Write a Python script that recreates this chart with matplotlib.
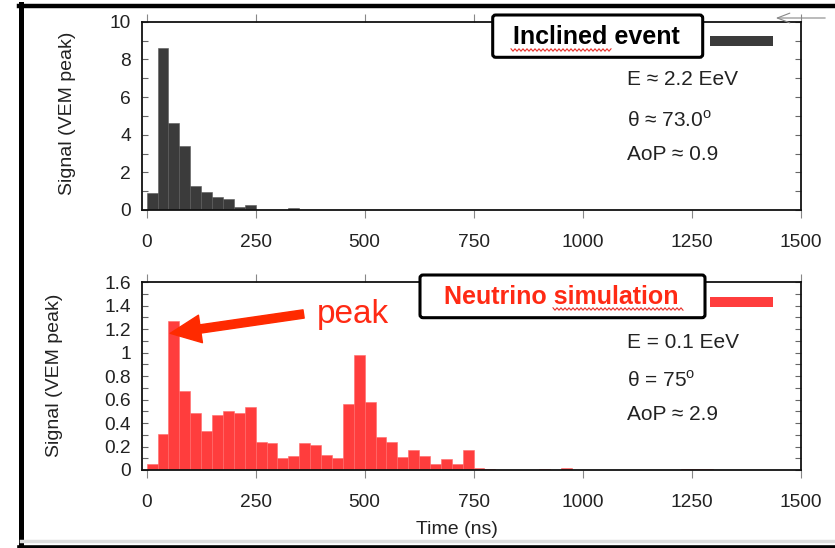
import numpy as np
import matplotlib
matplotlib.use('Agg')
import matplotlib.pyplot as plt
import matplotlib.transforms as mtransforms
from matplotlib.patches import FancyBboxPatch, Rectangle
from matplotlib.lines import Line2D
from matplotlib.ticker import MultipleLocator, FormatStrFormatter

plt.rcParams['font.family'] = ['Liberation Sans', 'DejaVu Sans']
plt.rcParams['mathtext.fontset'] = 'custom'
plt.rcParams['mathtext.rm'] = 'Liberation Sans'

# 25 ns bins, signal in VEM peak
bin_width = 25
inclined_signal = [0.92, 8.58, 4.64, 3.42, 1.27, 0.94, 0.69, 0.58, 0.16, 0.27,
                   0, 0, 0, 0.09]
neutrino_signal = [0.05, 0.31, 1.27, 0.67, 0.49, 0.33, 0.47, 0.50, 0.49, 0.54,
                   0.24, 0.23, 0.105, 0.12, 0.23, 0.215, 0.13, 0.105, 0.56, 0.98,
                   0.58, 0.28, 0.24, 0.11, 0.17, 0.12, 0.05, 0.09, 0.05, 0.17,
                   0.015, 0.005, 0, 0, 0, 0, 0.005, 0, 0.02, 0,
                   0, 0, 0, 0, 0, 0, 0, 0, 0, 0.008,
                   0.008, 0.008]
xticks = [0, 250, 500, 750, 1000, 1250, 1500]

inclined_info = ['E \u2248 2.2 EeV', '\u03b8 \u2248 73.0$^{\\mathrm{o}}$', 'AoP \u2248 0.9']
neutrino_info = ['E = 0.1 EeV', '\u03b8 = 75$^{\\mathrm{o}}$', 'AoP \u2248 2.9']

W, H = 835, 548
fig = plt.figure(figsize=(W / 100, H / 100), dpi=100)
# pixel coords, origin top-left
pix = mtransforms.Affine2D().scale(1 / W, -1 / H).translate(0, 1) + fig.transFigure

dark = '#3b3b3b'
red_bar = '#ff3d3d'
red_txt = '#ff2a14'


def axes_box(left, top, right, bottom):
    return [left / W, 1 - bottom / H, (right - left) / W, (bottom - top) / H]


def style_axes(ax, ymax, major, minor):
    ax.set_xlim(-10, 1500)
    ax.set_ylim(0, ymax)
    ax.set_xticks(xticks)
    ax.yaxis.set_major_locator(MultipleLocator(major))
    ax.yaxis.set_minor_locator(MultipleLocator(minor))
    ax.yaxis.set_major_formatter(FormatStrFormatter('%g'))
    ax.tick_params(axis='x', direction='out', length=6, width=0.8, color='#888888',
                   top=True, pad=11, labelsize=13.8, labelcolor='#222222')
    ax.tick_params(axis='y', which='both', direction='in', length=4, width=0.8,
                   color='#666666', right=True, pad=8, labelsize=13.8,
                   labelcolor='#222222')
    for s in ax.spines.values():
        s.set_linewidth(1.3)
        s.set_color('#111111')


edges_top = np.arange(len(inclined_signal)) * bin_width
edges_bot = np.arange(len(neutrino_signal)) * bin_width

ax1 = fig.add_axes(axes_box(142.3, 21.7, 800.5, 210))
ax1.bar(edges_top, inclined_signal, width=bin_width, align='edge', color=dark,
        edgecolor='#5a5a5a', linewidth=0.4)
style_axes(ax1, 10, 2, 1)

ax2 = fig.add_axes(axes_box(142.3, 282.3, 800.5, 470))
ax2.bar(edges_bot, neutrino_signal, width=bin_width, align='edge', color=red_bar,
        edgecolor='#ff6a6a', linewidth=0.4)
style_axes(ax2, 1.6, 0.2, 0.1)

# axis titles
fig.text(67, 113, 'Signal (VEM peak)', rotation=90, ha='center', va='center',
         fontsize=14, color='#222222', transform=pix)
fig.text(55, 375, 'Signal (VEM peak)', rotation=90, ha='center', va='center',
         fontsize=14, color='#222222', transform=pix)
fig.text(457, 529, 'Time (ns)', ha='center', va='center', fontsize=14,
         color='#222222', transform=pix)

# title boxes + legend swatches
for (x0, y0, w, h, label, col, sq0, sq1, sqy, sw_y, sw_c) in [
        (492.7, 15, 210, 42.3, 'Inclined event', 'black', 511, 612, 50, 36, dark),
        (420, 275, 285, 42.7, 'Neutrino simulation', red_txt, 553, 685, 309, 297, red_bar)]:
    box = FancyBboxPatch((x0, y0), w, h, boxstyle='round,pad=0,rounding_size=3',
                         transform=pix, facecolor='white', edgecolor='black',
                         linewidth=2.2, zorder=5)
    fig.patches.append(box)
    fig.text(x0 + w / 2 - 1, y0 + h / 2 + 0.5, label, ha='center', va='center',
             fontsize=18, fontweight='bold', color=col, transform=pix, zorder=6)
    xs = np.arange(sq0, sq1, 2.0)
    ys = sqy + np.where(np.arange(len(xs)) % 2 == 0, -1.2, 1.2)
    fig.lines.append(Line2D(xs, ys, transform=pix, color='#e8302a', linewidth=0.8,
                            zorder=7))
    fig.patches.append(Rectangle((710, sw_y), 63, 10, transform=pix, facecolor=sw_c,
                                 edgecolor='none', zorder=5))

for txt, yb in zip(inclined_info, [85, 127, 160]):
    fig.text(627, yb, txt, ha='left', va='baseline', fontsize=15,
             color='#222222', transform=pix)
for txt, yb in zip(neutrino_info, [348, 387, 420]):
    fig.text(627, yb, txt, ha='left', va='baseline', fontsize=15,
             color='#222222', transform=pix)

# peak annotation
fig.text(317, 323, 'peak', ha='left', va='baseline', fontsize=24, color=red_txt,
         transform=pix)
ax2.annotate('', xy=(54, 1.165), xytext=(360, 1.33),
             arrowprops=dict(arrowstyle='simple,head_length=1.1,head_width=1.0,tail_width=0.3',
                             mutation_scale=20, color='#ff2a00', shrinkA=0, shrinkB=0))

# screenshot frame and stray arrow
fig.lines.append(Line2D([20.5, 20.5], [4, 547], transform=pix, color='black', linewidth=3.6))
fig.lines.append(Line2D([19, 835], [6, 6], transform=pix, color='black', linewidth=3.2))
fig.lines.append(Line2D([19, 835], [546.5, 546.5], transform=pix, color='black', linewidth=2.6))
fig.lines.append(Line2D([21, 835], [541, 541], transform=pix, color='#dddddd', linewidth=2.5))
ax1.annotate('', xy=(773, H - 18), xytext=(828, H - 18), xycoords='figure pixels',
             textcoords='figure pixels', annotation_clip=False,
             arrowprops=dict(arrowstyle='->,head_length=0.9,head_width=0.35',
                             color='#888888', linewidth=0.8))

fig.savefig('out.png', dpi=100)
